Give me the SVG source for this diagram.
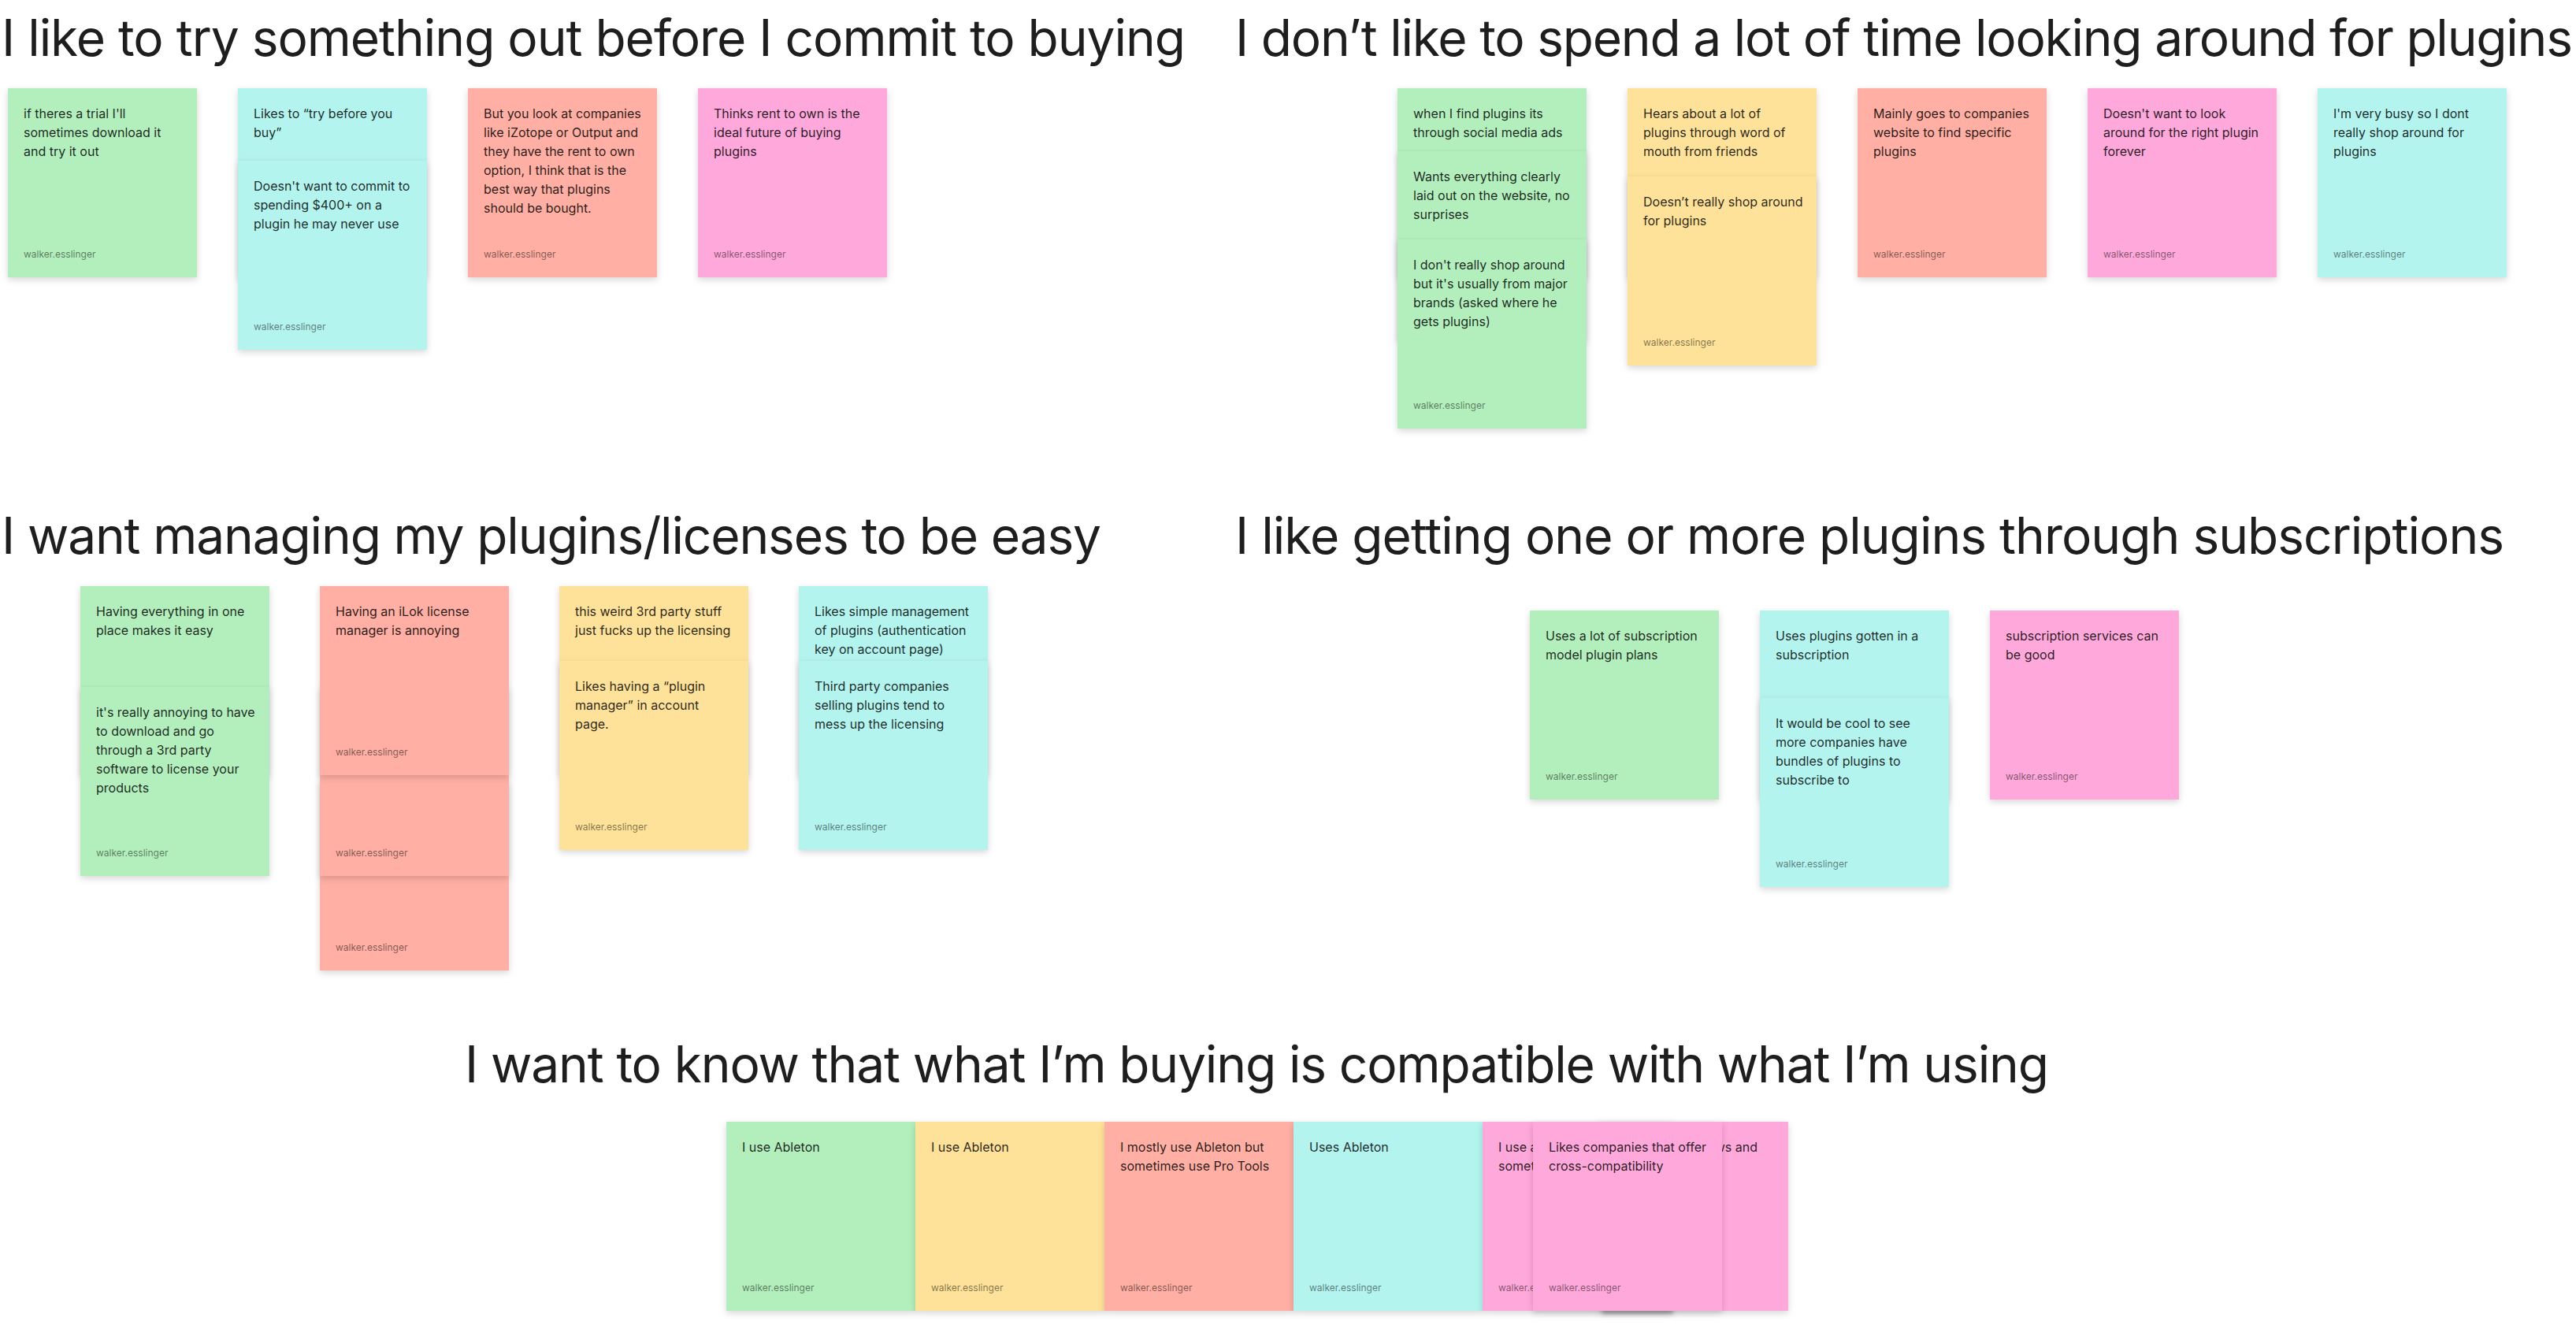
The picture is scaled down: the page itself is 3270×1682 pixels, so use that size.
<svg xmlns="http://www.w3.org/2000/svg" width="3270" height="1682" viewBox="0 0 3270 1682">
<defs>
<filter id="sh" x="-15%" y="-15%" width="130%" height="135%">
<feDropShadow dx="0" dy="3" stdDeviation="4" flood-color="#000" flood-opacity="0.16"/>
</filter>
<filter id="blur" x="-50%" y="-200%" width="200%" height="500%">
<feGaussianBlur stdDeviation="2.5"/>
</filter>
</defs>
<style>
.t{font-family:Inter,"Noto Sans","Liberation Sans",sans-serif;font-size:64px;fill:#1e1e1e;}
.b{font-family:Inter,"Noto Sans","Liberation Sans",sans-serif;font-size:16px;fill:#000;fill-opacity:0.85;}
.a{font-family:Inter,"Noto Sans","Liberation Sans",sans-serif;font-size:12px;fill:#000;fill-opacity:0.5;}
.n{filter:url(#sh);}
.gr{fill:#B3EFBD;}
.cy{fill:#B3F4EF;}
.rd{fill:#FFAFA3;}
.pk{fill:#FFA8DB;}
.ye{fill:#FFE299;}
</style>
<rect width="3270" height="1682" fill="#ffffff"/>

<!-- Group 1 -->
<g id="section1">
<text class="t" x="2" y="71" textLength="1503" lengthAdjust="spacing">I like to try something out before I commit to buying</text>
<g id="s1-green" transform="translate(10,112)">
<rect class="n gr" width="240" height="240"/>
<text class="b"><tspan x="20" y="38">if theres a trial I'll</tspan><tspan x="20" y="62">sometimes download it</tspan><tspan x="20" y="86">and try it out</tspan></text>
<text class="a" x="20" y="215">walker.esslinger</text>
</g>
<g id="s1-cyan-a" transform="translate(302,112)">
<rect class="n cy" width="240" height="240"/>
<text class="b"><tspan x="20" y="38">Likes to “try before you</tspan><tspan x="20" y="62">buy”</tspan></text>
<text class="a" x="20" y="215">walker.esslinger</text>
</g>
<g id="s1-cyan-b" transform="translate(302,204)">
<rect class="n cy" width="240" height="240"/>
<text class="b"><tspan x="20" y="38">Doesn't want to commit to</tspan><tspan x="20" y="62">spending $400+ on a</tspan><tspan x="20" y="86">plugin he may never use</tspan></text>
<text class="a" x="20" y="215">walker.esslinger</text>
</g>
<g id="s1-red" transform="translate(594,112)">
<rect class="n rd" width="240" height="240"/>
<text class="b"><tspan x="20" y="38">But you look at companies</tspan><tspan x="20" y="62">like iZotope or Output and</tspan><tspan x="20" y="86">they have the rent to own</tspan><tspan x="20" y="110">option, I think that is the</tspan><tspan x="20" y="134">best way that plugins</tspan><tspan x="20" y="158">should be bought.</tspan></text>
<text class="a" x="20" y="215">walker.esslinger</text>
</g>
<g id="s1-pink" transform="translate(886,112)">
<rect class="n pk" width="240" height="240"/>
<text class="b"><tspan x="20" y="38">Thinks rent to own is the</tspan><tspan x="20" y="62">ideal future of buying</tspan><tspan x="20" y="86">plugins</tspan></text>
<text class="a" x="20" y="215">walker.esslinger</text>
</g>
</g>

<!-- Group 2 -->
<g id="section2">
<text class="t" x="1568" y="71" textLength="1698" lengthAdjust="spacing">I don’t like to spend a lot of time looking around for plugins</text>
<g id="s2-green-a" transform="translate(1774,112)">
<rect class="n gr" width="240" height="240"/>
<text class="b"><tspan x="20" y="38">when I find plugins its</tspan><tspan x="20" y="62">through social media ads</tspan></text>
</g>
<g id="s2-green-b" transform="translate(1774,192)">
<rect class="n gr" width="240" height="240"/>
<text class="b"><tspan x="20" y="38">Wants everything clearly</tspan><tspan x="20" y="62">laid out on the website, no</tspan><tspan x="20" y="86">surprises</tspan></text>
</g>
<g id="s2-green-c" transform="translate(1774,304)">
<rect class="n gr" width="240" height="240"/>
<text class="b"><tspan x="20" y="38">I don't really shop around</tspan><tspan x="20" y="62">but it's usually from major</tspan><tspan x="20" y="86">brands (asked where he</tspan><tspan x="20" y="110">gets plugins)</tspan></text>
<text class="a" x="20" y="215">walker.esslinger</text>
</g>
<g id="s2-yellow-a" transform="translate(2066,112)">
<rect class="n ye" width="240" height="240"/>
<text class="b"><tspan x="20" y="38">Hears about a lot of</tspan><tspan x="20" y="62">plugins through word of</tspan><tspan x="20" y="86">mouth from friends</tspan></text>
</g>
<g id="s2-yellow-b" transform="translate(2066,224)">
<rect class="n ye" width="240" height="240"/>
<text class="b"><tspan x="20" y="38">Doesn’t really shop around</tspan><tspan x="20" y="62">for plugins</tspan></text>
<text class="a" x="20" y="215">walker.esslinger</text>
</g>
<g id="s2-red" transform="translate(2358,112)">
<rect class="n rd" width="240" height="240"/>
<text class="b"><tspan x="20" y="38">Mainly goes to companies</tspan><tspan x="20" y="62">website to find specific</tspan><tspan x="20" y="86">plugins</tspan></text>
<text class="a" x="20" y="215">walker.esslinger</text>
</g>
<g id="s2-pink" transform="translate(2650,112)">
<rect class="n pk" width="240" height="240"/>
<text class="b"><tspan x="20" y="38">Doesn't want to look</tspan><tspan x="20" y="62">around for the right plugin</tspan><tspan x="20" y="86">forever</tspan></text>
<text class="a" x="20" y="215">walker.esslinger</text>
</g>
<g id="s2-cyan" transform="translate(2942,112)">
<rect class="n cy" width="240" height="240"/>
<text class="b"><tspan x="20" y="38">I'm very busy so I dont</tspan><tspan x="20" y="62">really shop around for</tspan><tspan x="20" y="86">plugins</tspan></text>
<text class="a" x="20" y="215">walker.esslinger</text>
</g>
</g>

<!-- Group 3 -->
<g id="section3">
<text class="t" x="2" y="703" textLength="1396" lengthAdjust="spacing">I want managing my plugins/licenses to be easy</text>
<g id="s3-green-a" transform="translate(102,744)">
<rect class="n gr" width="240" height="240"/>
<text class="b"><tspan x="20" y="38">Having everything in one</tspan><tspan x="20" y="62">place makes it easy</tspan></text>
</g>
<g id="s3-green-b" transform="translate(102,872)">
<rect class="n gr" width="240" height="240"/>
<text class="b"><tspan x="20" y="38">it's really annoying to have</tspan><tspan x="20" y="62">to download and go</tspan><tspan x="20" y="86">through a 3rd party</tspan><tspan x="20" y="110">software to license your</tspan><tspan x="20" y="134">products</tspan></text>
<text class="a" x="20" y="215">walker.esslinger</text>
</g>
<g id="s3-red-c" transform="translate(406,992)">
<rect class="n rd" width="240" height="240"/>
<text class="a" x="20" y="215">walker.esslinger</text>
</g>
<g id="s3-red-b" transform="translate(406,872)">
<rect class="n rd" width="240" height="240"/>
<text class="a" x="20" y="215">walker.esslinger</text>
</g>
<g id="s3-red-a" transform="translate(406,744)">
<rect class="n rd" width="240" height="240"/>
<text class="b"><tspan x="20" y="38">Having an iLok license</tspan><tspan x="20" y="62">manager is annoying</tspan></text>
<text class="a" x="20" y="215">walker.esslinger</text>
</g>
<g id="s3-yellow-a" transform="translate(710,744)">
<rect class="n ye" width="240" height="240"/>
<text class="b"><tspan x="20" y="38">this weird 3rd party stuff</tspan><tspan x="20" y="62">just fucks up the licensing</tspan></text>
</g>
<g id="s3-yellow-b" transform="translate(710,839)">
<rect class="n ye" width="240" height="240"/>
<text class="b"><tspan x="20" y="38">Likes having a “plugin</tspan><tspan x="20" y="62">manager” in account</tspan><tspan x="20" y="86">page.</tspan></text>
<text class="a" x="20" y="215">walker.esslinger</text>
</g>
<g id="s3-cyan-a" transform="translate(1014,744)">
<rect class="n cy" width="240" height="240"/>
<text class="b"><tspan x="20" y="38">Likes simple management</tspan><tspan x="20" y="62">of plugins (authentication</tspan><tspan x="20" y="86">key on account page)</tspan></text>
</g>
<g id="s3-cyan-b" transform="translate(1014,839)">
<rect class="n cy" width="240" height="240"/>
<text class="b"><tspan x="20" y="38">Third party companies</tspan><tspan x="20" y="62">selling plugins tend to</tspan><tspan x="20" y="86">mess up the licensing</tspan></text>
<text class="a" x="20" y="215">walker.esslinger</text>
</g>
</g>

<!-- Group 4 -->
<g id="section4">
<text class="t" x="1568" y="703" textLength="1611" lengthAdjust="spacing">I like getting one or more plugins through subscriptions</text>
<g id="s4-green" transform="translate(1942,775)">
<rect class="n gr" width="240" height="240"/>
<text class="b"><tspan x="20" y="38">Uses a lot of subscription</tspan><tspan x="20" y="62">model plugin plans</tspan></text>
<text class="a" x="20" y="215">walker.esslinger</text>
</g>
<g id="s4-cyan-a" transform="translate(2234,775)">
<rect class="n cy" width="240" height="240"/>
<text class="b"><tspan x="20" y="38">Uses plugins gotten in a</tspan><tspan x="20" y="62">subscription</tspan></text>
</g>
<g id="s4-cyan-b" transform="translate(2234,886)">
<rect class="n cy" width="240" height="240"/>
<text class="b"><tspan x="20" y="38">It would be cool to see</tspan><tspan x="20" y="62">more companies have</tspan><tspan x="20" y="86">bundles of plugins to</tspan><tspan x="20" y="110">subscribe to</tspan></text>
<text class="a" x="20" y="215">walker.esslinger</text>
</g>
<g id="s4-pink" transform="translate(2526,775)">
<rect class="n pk" width="240" height="240"/>
<text class="b"><tspan x="20" y="38">subscription services can</tspan><tspan x="20" y="62">be good</tspan></text>
<text class="a" x="20" y="215">walker.esslinger</text>
</g>
</g>

<!-- Group 5 -->
<g id="section5">
<text class="t" x="590" y="1374" textLength="2011" lengthAdjust="spacing">I want to know that what I’m buying is compatible with what I’m using</text>
<g id="s5-green" transform="translate(922,1424)">
<rect class="n gr" width="240" height="240"/>
<text class="b"><tspan x="20" y="38">I use Ableton</tspan></text>
<text class="a" x="20" y="215">walker.esslinger</text>
</g>
<g id="s5-yellow" transform="translate(1162,1424)">
<rect class="n ye" width="240" height="240"/>
<text class="b"><tspan x="20" y="38">I use Ableton</tspan></text>
<text class="a" x="20" y="215">walker.esslinger</text>
</g>
<g id="s5-red" transform="translate(1402,1424)">
<rect class="n rd" width="240" height="240"/>
<text class="b"><tspan x="20" y="38">I mostly use Ableton but</tspan><tspan x="20" y="62">sometimes use Pro Tools</tspan></text>
<text class="a" x="20" y="215">walker.esslinger</text>
</g>
<g id="s5-cyan" transform="translate(1642,1424)">
<rect class="n cy" width="240" height="240"/>
<text class="b"><tspan x="20" y="38">Uses Ableton</tspan></text>
<text class="a" x="20" y="215">walker.esslinger</text>
</g>
<g id="s5-pink-a" transform="translate(1882,1424)">
<rect class="n pk" width="240" height="240"/>
<text class="b"><tspan x="20" y="38">I use a</tspan><tspan x="20" y="62">somet</tspan></text>
<text class="a" x="20" y="215">walker.esslinger</text>
</g>
<g id="s5-pink-b" transform="translate(2030,1424)">
<rect class="n pk" width="240" height="240"/>
<text class="b" x="201" y="38" text-anchor="end">ws and</text>
</g>
<rect x="2034" y="1662" width="90" height="6" fill="#000" fill-opacity="0.25" filter="url(#blur)"/>
<g id="s5-pink-front" transform="translate(1946,1424)">
<rect class="n pk" width="240" height="240"/>
<text class="b"><tspan x="20" y="38">Likes companies that offer</tspan><tspan x="20" y="62">cross-compatibility</tspan></text>
<text class="a" x="20" y="215">walker.esslinger</text>
</g>
</g>
</svg>
